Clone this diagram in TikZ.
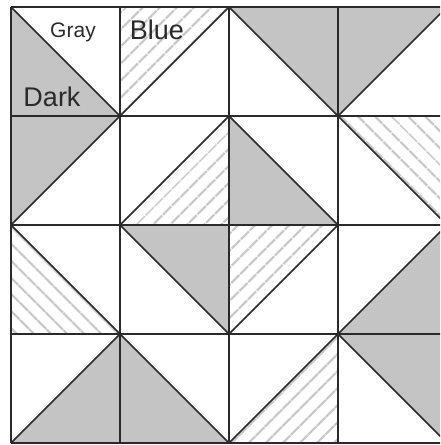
\documentclass[tikz,border=0pt]{standalone}
\usepackage{fontspec}
\setmainfont{Liberation Sans}
\usepackage{tikz}
\usetikzlibrary{patterns.meta}
\definecolor{shadegray}{HTML}{C4C4C4}
\definecolor{hatchgray}{HTML}{C8C8C8}
\definecolor{pencil}{HTML}{2A2A2A}

\begin{document}
\begin{tikzpicture}[x=1pt, y=-1pt,
  cellline/.style={pencil, line width=1.7pt},
  darktri/.style={fill=shadegray},
  bluene/.style={pattern={Lines[angle=45, distance=13pt, line width=2.6pt]}, pattern color=hatchgray},
  bluenw/.style={pattern={Lines[angle=-45, distance=13pt, line width=2.6pt]}, pattern color=hatchgray},
  legend/.style={font=\fontsize{#1}{#1}\selectfont, text=pencil, inner sep=0pt}]
  \useasboundingbox[fill=white] (0,0) rectangle (440,445);
  \clip (0,0) rectangle (440,445);
  \begin{scope}[shift={(11,7)}, x=109pt, y=-109pt]
    \foreach \i/\j/\a/\b/\st in {0/0/0/1/darktri, 1/0/0/0/bluene, 2/0/1/0/darktri, 3/0/0/0/darktri,
                                0/1/0/0/darktri, 1/1/1/1/bluene, 2/1/0/1/darktri, 3/1/1/0/bluenw,
                                0/2/0/1/bluenw, 1/2/1/0/darktri, 2/2/0/0/bluene, 3/2/1/1/darktri,
                                0/3/1/1/darktri, 1/3/0/1/darktri, 2/3/1/1/bluene, 3/3/1/0/darktri} {
      \path[\st] (\i+\a,\j+\b) -- (\i+1-\a,\j+\b) -- (\i+\a,\j+1-\b) -- cycle;
      \draw[cellline] (\i+1-\a,\j+\b) -- (\i+\a,\j+1-\b);
    }
    \foreach \k in {0,...,4} {
      \draw[cellline] (\k,0) -- (\k,4);
      \draw[cellline] (0,\k) -- (4,\k);
    }
  \end{scope}
  \node[legend=21] (gray) at (73,32) {Gray};
  \node[legend=27] (blue) at (157,30) {Blue};
  \node[legend=27] (dark) at (52,97) {Dark};
\end{tikzpicture}
\end{document}
